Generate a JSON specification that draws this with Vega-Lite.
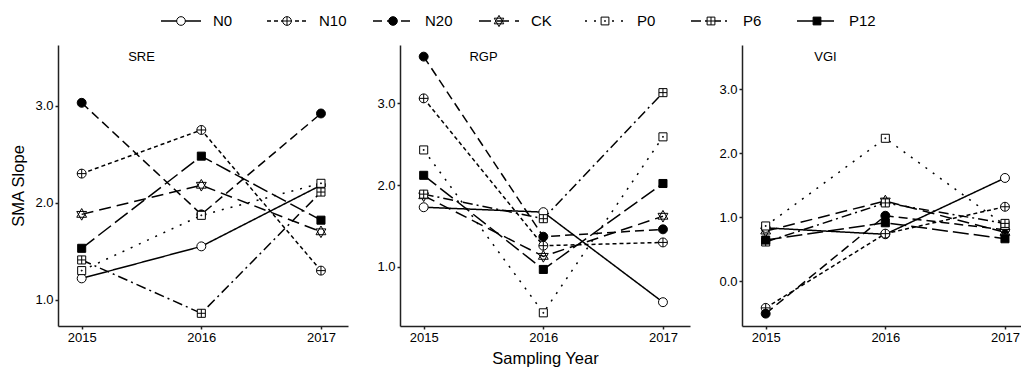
{
  "$schema": "https://vega.github.io/schema/vega-lite/v6.json",
  "background": "white",
  "padding": {"left": 10, "top": 11, "right": 0, "bottom": 0},
  "datasets": {
    "d": [
      {"panel": "SRE", "series": "N0", "year": 2015, "value": 1.22},
      {"panel": "SRE", "series": "N0", "year": 2016, "value": 1.55},
      {"panel": "SRE", "series": "N0", "year": 2017, "value": 2.18},
      {"panel": "SRE", "series": "N10", "year": 2015, "value": 2.30},
      {"panel": "SRE", "series": "N10", "year": 2016, "value": 2.75},
      {"panel": "SRE", "series": "N10", "year": 2017, "value": 1.30},
      {"panel": "SRE", "series": "N20", "year": 2015, "value": 3.03},
      {"panel": "SRE", "series": "N20", "year": 2016, "value": 1.88},
      {"panel": "SRE", "series": "N20", "year": 2017, "value": 2.92},
      {"panel": "SRE", "series": "CK", "year": 2015, "value": 1.88},
      {"panel": "SRE", "series": "CK", "year": 2016, "value": 2.18},
      {"panel": "SRE", "series": "CK", "year": 2017, "value": 1.70},
      {"panel": "SRE", "series": "P0", "year": 2015, "value": 1.30},
      {"panel": "SRE", "series": "P0", "year": 2016, "value": 1.87},
      {"panel": "SRE", "series": "P0", "year": 2017, "value": 2.20},
      {"panel": "SRE", "series": "P6", "year": 2015, "value": 1.41},
      {"panel": "SRE", "series": "P6", "year": 2016, "value": 0.86},
      {"panel": "SRE", "series": "P6", "year": 2017, "value": 2.11},
      {"panel": "SRE", "series": "P12", "year": 2015, "value": 1.53},
      {"panel": "SRE", "series": "P12", "year": 2016, "value": 2.48},
      {"panel": "SRE", "series": "P12", "year": 2017, "value": 1.82},
      {"panel": "RGP", "series": "N0", "year": 2015, "value": 1.73},
      {"panel": "RGP", "series": "N0", "year": 2016, "value": 1.67},
      {"panel": "RGP", "series": "N0", "year": 2017, "value": 0.57},
      {"panel": "RGP", "series": "N10", "year": 2015, "value": 3.06},
      {"panel": "RGP", "series": "N10", "year": 2016, "value": 1.26},
      {"panel": "RGP", "series": "N10", "year": 2017, "value": 1.30},
      {"panel": "RGP", "series": "N20", "year": 2015, "value": 3.57},
      {"panel": "RGP", "series": "N20", "year": 2016, "value": 1.37},
      {"panel": "RGP", "series": "N20", "year": 2017, "value": 1.46},
      {"panel": "RGP", "series": "CK", "year": 2015, "value": 1.87},
      {"panel": "RGP", "series": "CK", "year": 2016, "value": 1.13},
      {"panel": "RGP", "series": "CK", "year": 2017, "value": 1.62},
      {"panel": "RGP", "series": "P0", "year": 2015, "value": 2.43},
      {"panel": "RGP", "series": "P0", "year": 2016, "value": 0.44},
      {"panel": "RGP", "series": "P0", "year": 2017, "value": 2.59},
      {"panel": "RGP", "series": "P6", "year": 2015, "value": 1.89},
      {"panel": "RGP", "series": "P6", "year": 2016, "value": 1.59},
      {"panel": "RGP", "series": "P6", "year": 2017, "value": 3.13},
      {"panel": "RGP", "series": "P12", "year": 2015, "value": 2.12},
      {"panel": "RGP", "series": "P12", "year": 2016, "value": 0.97},
      {"panel": "RGP", "series": "P12", "year": 2017, "value": 2.02},
      {"panel": "VGI", "series": "N0", "year": 2015, "value": 0.83},
      {"panel": "VGI", "series": "N0", "year": 2016, "value": 0.73},
      {"panel": "VGI", "series": "N0", "year": 2017, "value": 1.61},
      {"panel": "VGI", "series": "N10", "year": 2015, "value": -0.42},
      {"panel": "VGI", "series": "N10", "year": 2016, "value": 0.74},
      {"panel": "VGI", "series": "N10", "year": 2017, "value": 1.16},
      {"panel": "VGI", "series": "N20", "year": 2015, "value": -0.51},
      {"panel": "VGI", "series": "N20", "year": 2016, "value": 1.02},
      {"panel": "VGI", "series": "N20", "year": 2017, "value": 0.80},
      {"panel": "VGI", "series": "CK", "year": 2015, "value": 0.78},
      {"panel": "VGI", "series": "CK", "year": 2016, "value": 1.25},
      {"panel": "VGI", "series": "CK", "year": 2017, "value": 0.76},
      {"panel": "VGI", "series": "P0", "year": 2015, "value": 0.86},
      {"panel": "VGI", "series": "P0", "year": 2016, "value": 2.23},
      {"panel": "VGI", "series": "P0", "year": 2017, "value": 0.87},
      {"panel": "VGI", "series": "P6", "year": 2015, "value": 0.61},
      {"panel": "VGI", "series": "P6", "year": 2016, "value": 1.22},
      {"panel": "VGI", "series": "P6", "year": 2017, "value": 0.90},
      {"panel": "VGI", "series": "P12", "year": 2015, "value": 0.64},
      {"panel": "VGI", "series": "P12", "year": 2016, "value": 0.91},
      {"panel": "VGI", "series": "P12", "year": 2017, "value": 0.66}
    ],
    "legend": [
      {"series": "N0"}, {"series": "N10"}, {"series": "N20"}, {"series": "CK"},
      {"series": "P0"}, {"series": "P6"}, {"series": "P12"}
    ]
  },
  "vconcat": [
    {
      "width": 960,
      "height": 20,
      "data": {"name": "legend"},
      "encoding": {
        "x": {"field": "series", "type": "nominal", "sort": null,
              "scale": {"type": "point", "padding": 0, "domain": ["N0","N10","N20","CK","P0","P6","P12"], "range": [123, 759]},
              "axis": null}
      },
      "layer": [
        {
          "mark": {"type": "rule", "xOffset": -20, "x2Offset": 20, "strokeWidth": 1.5, "color": "black"},
          "encoding": {
            "x2": {"field": "series"},
            "y": {"value": 10},
            "strokeDash": {"field": "series", "type": "nominal", "legend": null,
              "scale": {"domain": ["N0","N10","N20","CK","P0","P6","P12"],
                        "range": [[1,0],[4,3],[9,5],[12,6],[2,7],[10,4,2,4],[16,5]]}}
          }
        },
        {
          "mark": {"type": "point", "size": 75, "stroke": "black", "strokeWidth": 1, "opacity": 1},
          "encoding": {
            "y": {"value": 10},
            "shape": {"field": "series", "type": "nominal", "legend": null,
              "scale": {"domain": ["N0","N10","N20","CK","P0","P6","P12"],
                "range": [
                  "M0,-1C0.5523,-1,1,-0.5523,1,0C1,0.5523,0.5523,1,0,1C-0.5523,1,-1,0.5523,-1,0C-1,-0.5523,-0.5523,-1,0,-1Z",
                  "M0,-1C0.5523,-1,1,-0.5523,1,0C1,0.5523,0.5523,1,0,1C-0.5523,1,-1,0.5523,-1,0C-1,-0.5523,-0.5523,-1,0,-1ZM-1,0L1,0M0,-1L0,1",
                  "M0,-1C0.5523,-1,1,-0.5523,1,0C1,0.5523,0.5523,1,0,1C-0.5523,1,-1,0.5523,-1,0C-1,-0.5523,-0.5523,-1,0,-1Z",
                  "M0,-1.3L1.1,0.65L-1.1,0.65ZM0,1.3L1.1,-0.65L-1.1,-0.65Z",
                  "M-0.9,-0.9L0.9,-0.9L0.9,0.9L-0.9,0.9ZM-0.1,-0.1L0.1,-0.1L0.1,0.1L-0.1,0.1Z",
                  "M-0.9,-0.9L0.9,-0.9L0.9,0.9L-0.9,0.9ZM-0.9,0L0.9,0M0,-0.9L0,0.9",
                  "M-0.9,-0.9L0.9,-0.9L0.9,0.9L-0.9,0.9Z"
                ]}},
            "fill": {"field": "series", "type": "nominal", "legend": null,
              "scale": {"domain": ["N0","N10","N20","CK","P0","P6","P12"],
                        "range": ["white","white","black","white","white","white","black"]}}
          }
        },
        {
          "mark": {"type": "text", "align": "left", "baseline": "middle", "dx": 32, "fontSize": 15, "color": "black"},
          "encoding": {"y": {"value": 10}, "text": {"field": "series"}}
        }
      ]
    },
    {
      "hconcat": [
        {
          "width": 290, "height": 281,
          "layer": [
            {
              "data": {"name": "d"},
              "transform": [{"filter": "datum.panel === 'SRE'"}],
              "mark": {"type": "line", "strokeWidth": 1.5, "color": "black"},
              "encoding": {
                "x": {"field": "year", "type": "quantitative", "scale": {"domain": [2014.802, 2017.226], "nice": false, "zero": false},
                      "axis": {"values": [2015, 2016, 2017], "format": "d", "title": null}},
                "y": {"field": "value", "type": "quantitative", "scale": {"domain": [0.729, 3.626], "nice": false, "zero": false},
                      "axis": {"values": [1, 2, 3], "format": ".1f", "title": "SMA Slope"}},
                "strokeDash": {"field": "series", "type": "nominal", "legend": null,
                  "scale": {"domain": ["N0","N10","N20","CK","P0","P6","P12"],
                            "range": [[1,0],[4,3],[9,5],[12,6],[2,7],[10,4,2,4],[16,5]]}}
              }
            },
            {
              "data": {"name": "d"},
              "transform": [{"filter": "datum.panel === 'SRE'"}],
              "mark": {"type": "point", "size": 80, "stroke": "black", "strokeWidth": 1, "opacity": 1},
              "encoding": {
                "x": {"field": "year", "type": "quantitative"},
                "y": {"field": "value", "type": "quantitative"},
                "shape": {"field": "series", "type": "nominal", "legend": null},
                "fill": {"field": "series", "type": "nominal", "legend": null}
              }
            },
            {
              "data": {"values": [{"label": "SRE"}]},
              "mark": {"type": "text", "fontSize": 13, "align": "center", "baseline": "middle", "color": "black"},
              "encoding": {
                "x": {"datum": 2015.5, "type": "quantitative"},
                "y": {"datum": 3.5, "type": "quantitative"},
                "text": {"field": "label"}
              }
            }
          ]
        },
        {
          "width": 290, "height": 281,
          "layer": [
            {
              "data": {"name": "d"},
              "transform": [{"filter": "datum.panel === 'RGP'"}],
              "mark": {"type": "line", "strokeWidth": 1.5, "color": "black"},
              "encoding": {
                "x": {"field": "year", "type": "quantitative", "scale": {"domain": [2014.802, 2017.226], "nice": false, "zero": false},
                      "axis": {"values": [2015, 2016, 2017], "format": "d", "title": "Sampling Year"}},
                "y": {"field": "value", "type": "quantitative", "scale": {"domain": [0.279, 3.712], "nice": false, "zero": false},
                      "axis": {"values": [1, 2, 3], "format": ".1f", "title": null}},
                "strokeDash": {"field": "series", "type": "nominal", "legend": null}
              }
            },
            {
              "data": {"name": "d"},
              "transform": [{"filter": "datum.panel === 'RGP'"}],
              "mark": {"type": "point", "size": 80, "stroke": "black", "strokeWidth": 1, "opacity": 1},
              "encoding": {
                "x": {"field": "year", "type": "quantitative"},
                "y": {"field": "value", "type": "quantitative"},
                "shape": {"field": "series", "type": "nominal", "legend": null},
                "fill": {"field": "series", "type": "nominal", "legend": null}
              }
            },
            {
              "data": {"values": [{"label": "RGP"}]},
              "mark": {"type": "text", "fontSize": 13, "align": "center", "baseline": "middle", "color": "black"},
              "encoding": {
                "x": {"datum": 2015.5, "type": "quantitative"},
                "y": {"datum": 3.56, "type": "quantitative"},
                "text": {"field": "label"}
              }
            }
          ]
        },
        {
          "width": 279, "height": 281,
          "layer": [
            {
              "data": {"name": "d"},
              "transform": [{"filter": "datum.panel === 'VGI'"}],
              "mark": {"type": "line", "strokeWidth": 1.5, "color": "black"},
              "encoding": {
                "x": {"field": "year", "type": "quantitative", "scale": {"domain": [2014.802, 2017.134], "nice": false, "zero": false},
                      "axis": {"values": [2015, 2016, 2017], "format": "d", "title": null}},
                "y": {"field": "value", "type": "quantitative", "scale": {"domain": [-0.703, 3.6875], "nice": false, "zero": false},
                      "axis": {"values": [0, 1, 2, 3], "format": ".1f", "title": null}},
                "strokeDash": {"field": "series", "type": "nominal", "legend": null}
              }
            },
            {
              "data": {"name": "d"},
              "transform": [{"filter": "datum.panel === 'VGI'"}],
              "mark": {"type": "point", "size": 80, "stroke": "black", "strokeWidth": 1, "opacity": 1},
              "encoding": {
                "x": {"field": "year", "type": "quantitative"},
                "y": {"field": "value", "type": "quantitative"},
                "shape": {"field": "series", "type": "nominal", "legend": null},
                "fill": {"field": "series", "type": "nominal", "legend": null}
              }
            },
            {
              "data": {"values": [{"label": "VGI"}]},
              "mark": {"type": "text", "fontSize": 13, "align": "center", "baseline": "middle", "color": "black"},
              "encoding": {
                "x": {"datum": 2015.5, "type": "quantitative"},
                "y": {"datum": 3.5, "type": "quantitative"},
                "text": {"field": "label"}
              }
            }
          ]
        }
      ],
      "spacing": 28
    }
  ],
  "spacing": 14,
  "config": {
    "view": {"stroke": null},
    "font": "Liberation Sans",
    "axis": {
      "grid": false,
      "domainColor": "#222",
      "domainWidth": 1.5,
      "tickColor": "#222",
      "tickWidth": 1.5,
      "tickSize": 3,
      "labelFontSize": 13,
      "labelColor": "black",
      "labelPadding": 2,
      "titleFontSize": 16.5,
      "titleFontWeight": "normal",
      "titleColor": "black"
    },
    "axisY": {"titlePadding": 8},
    "axisX": {"titlePadding": 6}
  }
}
